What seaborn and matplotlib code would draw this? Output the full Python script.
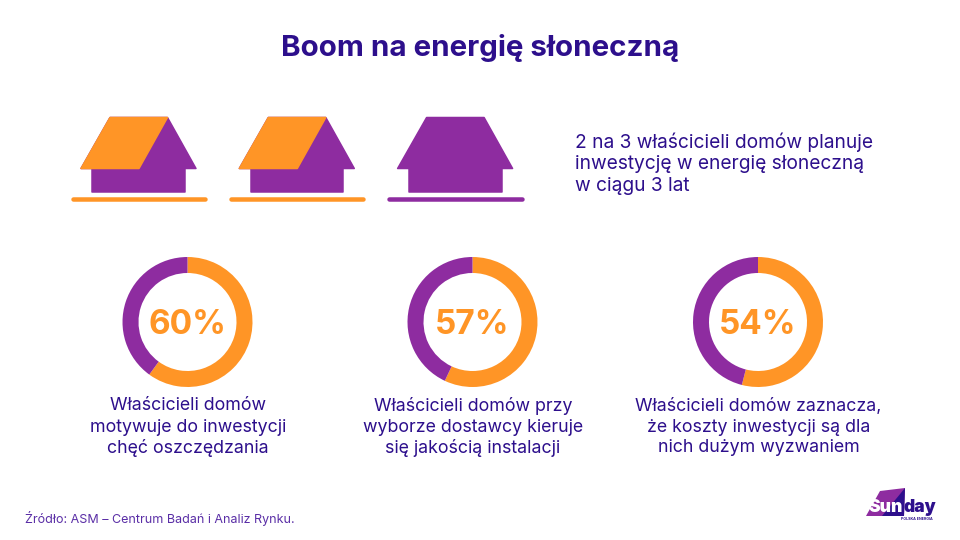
import matplotlib
matplotlib.use("Agg")
import matplotlib.pyplot as plt
from matplotlib.patches import Polygon
import seaborn as sns

title = "Boom na energię słoneczną"
house_filled = [True, True, False]
house_note = ["2 na 3 właścicieli domów planuje",
              "inwestycję w energię słoneczną",
              "w ciągu 3 lat"]
percent_values = [60, 57, 54]
percent_notes = [
    ["Właścicieli domów", "motywuje do inwestycji", "chęć oszczędzania"],
    ["Właścicieli domów przy", "wyborze dostawcy kieruje", "się jakością instalacji"],
    ["Właścicieli domów zaznacza,", "że koszty inwestycji są dla", "nich dużym wyzwaniem"],
]
source = "Źródło: ASM – Centrum Badań i Analiz Rynku."

sns.set_theme(style="white")
plt.rcParams["font.family"] = ["Inter", "DejaVu Sans"]

ORANGE = "#ff9526"
PURPLE = "#8e2ca0"
NAVY = "#2d0f8c"
px = 0.72  # one pixel in points at dpi 100

fig = plt.figure(figsize=(9.6, 5.4), dpi=100, facecolor="white")
# page axes in pixels, y going down like the picture
page = fig.add_axes([0, 0, 1, 1])
page.set_xlim(0, 960)
page.set_ylim(540, 0)
page.axis("off")


def draw_house(ax, dx, filled):
    body = [(92.3, 165), (185, 165), (185, 192), (92.3, 192)]
    roof = [(110, 117.5), (167.5, 117.5), (196, 168.5), (81, 168.5)]
    panel = [(110, 117.5), (167.5, 117.5), (139, 168.5), (81, 168.5)]
    for pts, col, z in [(body, PURPLE, 2), (roof, PURPLE, 2)]:
        ax.add_patch(Polygon([(x + dx, y) for x, y in pts], closed=True, fc=col,
                             ec=col, lw=1.5 * px, joinstyle="round", zorder=z))
    if filled:
        ax.add_patch(Polygon([(x + dx, y) for x, y in panel], closed=True, fc=ORANGE,
                             ec=ORANGE, lw=1.5 * px, joinstyle="round", zorder=3))
    ax.plot([72.5 + dx, 205 + dx], [198.7, 198.7], color=ORANGE if filled else PURPLE,
            lw=4.5 * px, solid_capstyle="round", zorder=2)


def draw_donut(cx, cy, r, value):
    ax = fig.add_axes([(cx - r) / 960, 1 - (cy + r) / 540, 2 * r / 960, 2 * r / 540])
    ax.pie([value, 100 - value], colors=[ORANGE, PURPLE], startangle=90, counterclock=False,
           radius=1, wedgeprops={"width": 16 / r, "linewidth": 0})
    ax.set_xlim(-1, 1)
    ax.set_ylim(-1, 1)
    ax.text(0, 0, f"{value}%", ha="center", va="center_baseline", color=ORANGE,
            fontsize=24, fontweight="bold")


page.text(480, 48, title, ha="center", va="center", color=NAVY, fontsize=21.3, fontweight="bold")

for i, filled in enumerate(house_filled):
    draw_house(page, i * 158.3, filled)

for i, line in enumerate(house_note):
    page.text(575, 142 + i * 22.2, line, ha="left", va="center", color=NAVY, fontsize=13.8)

centers = [187.5, 472.5, 758]
for cx, value, note in zip(centers, percent_values, percent_notes):
    draw_donut(cx, 322, 65, value)
    for j, line in enumerate(note):
        page.text(cx + 0.5, 406 + j * 21, line, ha="center", va="center", color=NAVY, fontsize=12.8)

page.text(25, 519, source, ha="left", va="center", color="#5a2ea6", fontsize=9)

# logo
page.add_patch(Polygon([(880, 491), (905, 488), (904, 516), (866, 516)], closed=True,
                       fc=PURPLE, ec="none"))
page.add_patch(Polygon([(905, 488), (904, 516), (882, 516)], closed=True, fc=NAVY, ec="none"))
page.text(903, 507, "Sun", ha="right", va="center", color="white", fontsize=12.5, fontweight="black")
page.text(904, 507, "day", ha="left", va="center", color=NAVY, fontsize=12.5, fontweight="black")
page.text(901, 519, "POLSKA ENERGIA", ha="left", va="center", color=NAVY, fontsize=2.6, fontweight="bold")

fig.savefig("out.png", dpi=100)
